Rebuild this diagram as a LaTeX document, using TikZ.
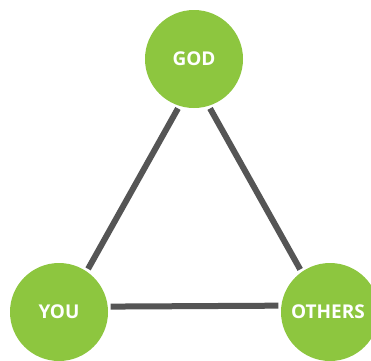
\documentclass[tikz,border=0pt]{standalone}
\usepackage{fontspec}
\setmainfont{Open Sans}
\definecolor{leafgreen}{HTML}{8DC63F}
\definecolor{linegray}{HTML}{555555}
\tikzset{
  ball/.style={circle, fill=leafgreen, minimum size=98pt, inner sep=0pt, outer sep=3pt,
    text=white, font=\fontsize{19pt}{19pt}\selectfont\bfseries},
  bar/.style={draw=linegray, line width=6pt}
}
\begin{document}
\begin{tikzpicture}[x=1pt,y=-1pt]
\clip (0,0) rectangle (371,360);
\fill[white] (0,0) rectangle (371,360);
\node[ball] (god) at (194,59) {GOD};
\node[ball] (you) at (59,312) {YOU};
\node[ball] (others) at (330,312) {\hspace*{-4pt}OTHERS};
\draw[bar] (god.252) -- (you.56);
\draw[bar] (god.288) -- (others.125);
\draw[bar] (you.6.6) -- (others.173.5);
\end{tikzpicture}
\end{document}
